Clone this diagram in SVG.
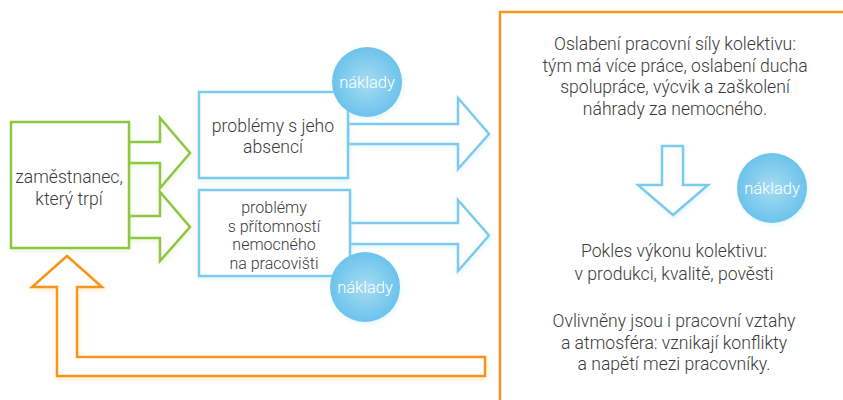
<svg xmlns="http://www.w3.org/2000/svg" width="843" height="400" viewBox="0 0 843 400">
<style>
.t{font-family:Roboto,"Liberation Sans",sans-serif;font-weight:300;font-size:17.6px;fill:#3a3a3a;text-anchor:middle}
.s{font-size:16px}
.c{font-family:Roboto,"Liberation Sans",sans-serif;font-weight:300;font-size:16.5px;fill:#fff;text-anchor:middle}
.g{fill:#fff;stroke:#8dc63f;stroke-width:2.5;filter:url(#gg)}
.b{fill:#fff;stroke:#7ccbef;stroke-width:2.5;filter:url(#gb)}
.o{fill:#fff;stroke:#f7941d;stroke-width:2.5;filter:url(#go)}
.ci{fill:url(#rg);filter:url(#gb)}
</style>
<defs>
<radialGradient id="rg" cx="0.5" cy="0.5" r="0.5">
<stop offset="0" stop-color="#a7dcf1"/>
<stop offset="1" stop-color="#6cc3ec"/>
</radialGradient>
<filter id="gg" x="-20%" y="-20%" width="140%" height="140%">
<feGaussianBlur in="SourceGraphic" stdDeviation="2" result="bl"/>
<feColorMatrix in="bl" type="matrix" values="0 0 0 0 0.55 0 0 0 0 0.78 0 0 0 0 0.25 0 0 0 0.3 0" result="sh"/>
<feOffset in="sh" dx="1" dy="2" result="so"/>
<feMerge><feMergeNode in="so"/><feMergeNode in="SourceGraphic"/></feMerge>
</filter>
<filter id="gb" x="-20%" y="-20%" width="140%" height="140%">
<feGaussianBlur in="SourceGraphic" stdDeviation="2" result="bl"/>
<feColorMatrix in="bl" type="matrix" values="0 0 0 0 0.45 0 0 0 0 0.78 0 0 0 0 0.94 0 0 0 0.35 0" result="sh"/>
<feOffset in="sh" dx="1" dy="2" result="so"/>
<feMerge><feMergeNode in="so"/><feMergeNode in="SourceGraphic"/></feMerge>
</filter>
<filter id="go" x="-20%" y="-20%" width="140%" height="140%">
<feGaussianBlur in="SourceGraphic" stdDeviation="2" result="bl"/>
<feColorMatrix in="bl" type="matrix" values="0 0 0 0 0.97 0 0 0 0 0.58 0 0 0 0 0.11 0 0 0 0.35 0" result="sh"/>
<feOffset in="sh" dx="1" dy="2" result="so"/>
<feMerge><feMergeNode in="so"/><feMergeNode in="SourceGraphic"/></feMerge>
</filter>
</defs>
<rect width="843" height="400" fill="#fff"/>

<g id="team-box">
<rect x="500" y="12" width="360" height="400" fill="#fff" stroke="#f7941d" stroke-width="2.5"/>
<text class="t" x="675" y="50">Oslabení pracovní síly kolektivu:</text>
<text class="t" x="675" y="72">tým má více práce, oslabení ducha</text>
<text class="t" x="675" y="93">spolupráce, výcvik a zaškolení</text>
<text class="t" x="675" y="115">náhrady za nemocného.</text>
<text class="t" x="674" y="257">Pokles výkonu kolektivu:</text>
<text class="t" x="674" y="280">v produkci, kvalitě, pověsti</text>
<text class="t" x="674" y="327">Ovlivněny jsou i pracovní vztahy</text>
<text class="t" x="674" y="349">a atmosféra: vznikají konflikty</text>
<text class="t" x="674" y="370">a napětí mezi pracovníky.</text>
</g>

<g id="connectors">
<path class="g" d="M129,142H160V118L190,153L160,188V163H129Z"/>
<path class="g" d="M129,216H160V192L190,227L160,261V238H129Z"/>
<path class="b" d="M348,124H458V98L489,134L458,169V144H348Z"/>
<path class="b" d="M350,223H458V200L489,235.5L458,271V244H350Z"/>
<path class="b" d="M662,146H683V185H708L673,215L638,185H662Z"/>
<path class="o" d="M67,256L102,287H77V357H485V376H57V287H32Z"/>
</g>

<g id="employee">
<rect class="g" x="11" y="122" width="118" height="126"/>
<text class="t" x="69" y="183">zaměstnanec,</text>
<text class="t" x="69" y="205">který trpí</text>
</g>

<g id="absence">
<rect class="b" x="199" y="92" width="149" height="86"/>
<text class="t" x="273" y="132">problémy s jeho</text>
<text class="t" x="273" y="153">absencí</text>
</g>

<g id="presence">
<rect class="b" x="199" y="190" width="151" height="86"/>
<text class="t s" x="274" y="213">problémy</text>
<text class="t s" x="274" y="231.5">s přítomností</text>
<text class="t s" x="274" y="250">nemocného</text>
<text class="t s" x="274" y="268.5">na pracovišti</text>
</g>

<g id="cost1">
<circle class="ci" cx="367" cy="82" r="35"/>
<text class="c" x="367" y="88">náklady</text>
</g>
<g id="cost2">
<circle class="ci" cx="365" cy="287" r="35"/>
<text class="c" x="365" y="293">náklady</text>
</g>
<g id="cost3">
<circle class="ci" cx="772" cy="188" r="35"/>
<text class="c" x="772" y="194">náklady</text>
</g>
</svg>
